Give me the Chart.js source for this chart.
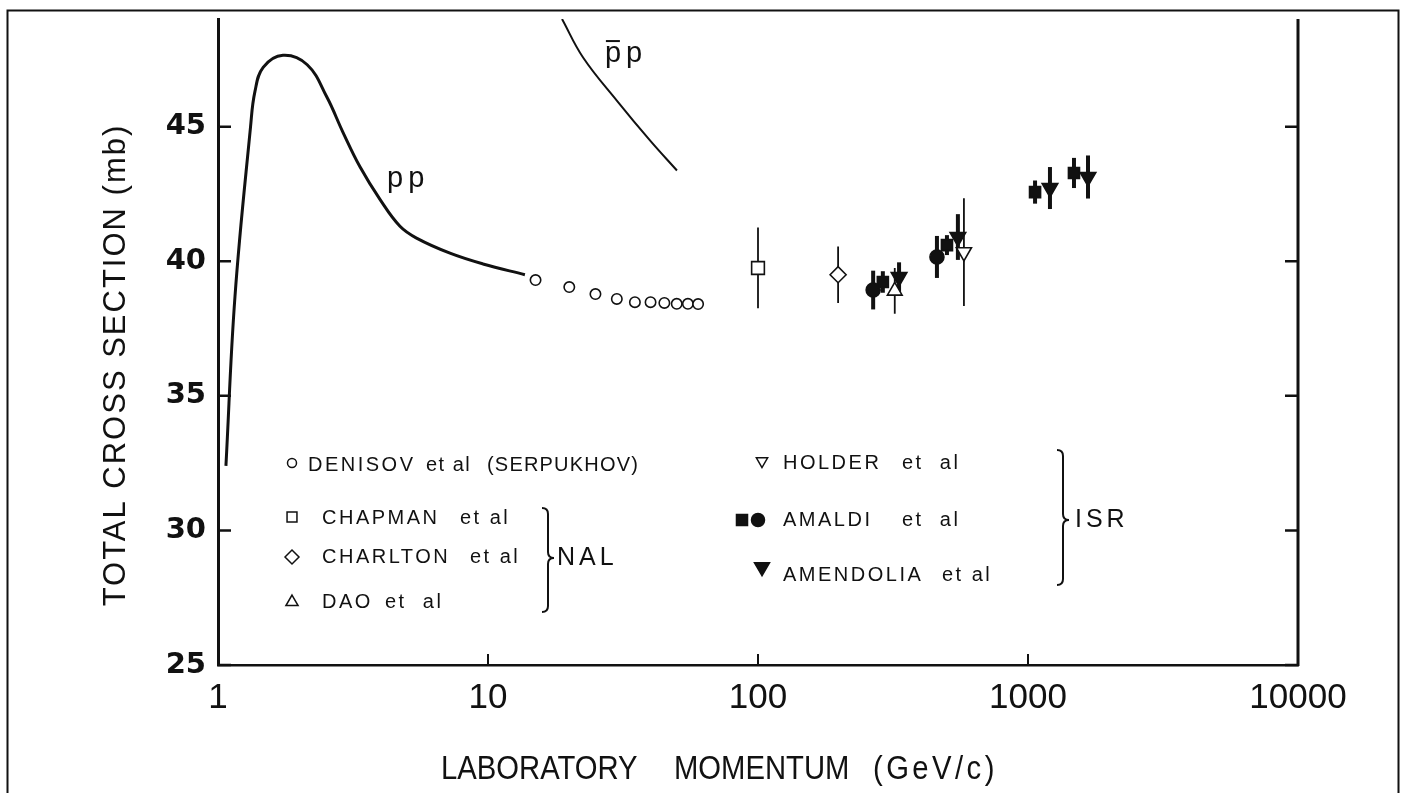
<!DOCTYPE html>
<html>
<head>
<meta charset="utf-8">
<title>Total cross section vs laboratory momentum</title>
<script src="https://cdn.jsdelivr.net/npm/chart.js@4.4.1/dist/chart.umd.min.js"></script>
<style>
  html, body { margin: 0; padding: 0; background: #fff; }
  canvas { display: block; }
</style>
</head>
<body>
<canvas id="crossSection" width="1405" height="793"></canvas>
<script>
// pp and pbar-p curves (GeV/c, mb)
const ppMomentum = [1.07, 1.156, 1.32, 1.37, 1.47, 1.74, 2.14, 2.53, 2.90, 3.36, 3.98, 4.72, 5.46, 7.23, 9.58, 13.7];
const ppSigma = [32.4, 38.7, 45.0, 46.3, 47.2, 47.65, 47.3, 46.1, 44.8, 43.5, 42.3, 41.3, 40.85, 40.3, 39.9, 39.5];
const pbarpMomentum = [18.8, 22.5, 30.0, 39.8, 50.1];
const pbarpSigma = [49.0, 47.57, 45.97, 44.49, 43.37];

// Serpukhov points
const denisovMomentum = [15, 20, 25, 30, 35, 40, 45, 50, 55, 60];
const denisovSigma = [39.30, 39.04, 38.78, 38.60, 38.48, 38.48, 38.45, 38.42, 38.42, 38.41];

// NAL points
const chapmanMomentum = [100];
const chapmanSigma = [39.75];
const chapmanError = [1.5];
const charltonMomentum = [198];
const charltonSigma = [39.5];
const charltonError = [1.05];
const daoMomentum = [321];
const daoSigma = [38.9];
const daoError = [0.85];

// ISR points
const holderMomentum = [579];
const holderSigma = [40.34];
const holderError = [2.0];
const amaldiSqMomentum = [290, 501, 1062, 1480];
const amaldiSqSigma = [39.23, 40.6, 42.57, 43.28];
const amaldiSqError = [0.4, 0.37, 0.43, 0.56];
const amaldiCircMomentum = [267, 460];
const amaldiCircSigma = [38.93, 40.16];
const amaldiCircError = [0.72, 0.78];
const amendoliaMomentum = [333, 550, 1206, 1668];
const amendoliaSigma = [39.41, 40.9, 42.72, 43.13];
const amendoliaError = [0.55, 0.85, 0.78, 0.8];

const xTickValues = [1, 10, 100, 1000, 10000];
const yTickValues = [25, 30, 35, 40, 45];

const xTitleWords = ['LABORATORY', 'MOMENTUM', '(GeV/c)'];
const yTitle = 'TOTAL CROSS SECTION (mb)';

const INK = '#111';

function pairs(xs, ys) {
    return xs.map((v, i) => ({ x: v, y: ys[i] }));
}

function markerSet(label, xs, ys, style, extra) {
    return Object.assign({
        label: label,
        data: pairs(xs, ys),
        showLine: false,
        pointStyle: style,
        borderColor: INK,
        backgroundColor: '#fff',
        pointBorderWidth: 1.6
    }, extra);
}

function curveSet(label, xs, ys, width) {
    return {
        label: label,
        data: pairs(xs, ys),
        showLine: true,
        pointRadius: 0,
        borderColor: INK,
        borderWidth: width,
        tension: 0.4,
        fill: false
    };
}

// error bars drawn under the markers
const errorBars = {
    id: 'errorBars',
    beforeDatasetsDraw(chart) {
        const { ctx, scales: { x, y } } = chart;
        ctx.save();
        ctx.strokeStyle = INK;
        chart.data.datasets.forEach(ds => {
            if (!ds.errors) return;
            ctx.lineWidth = ds.errorWidth;
            ds.data.forEach((pt, i) => {
                const px = x.getPixelForValue(pt.x);
                ctx.beginPath();
                ctx.moveTo(px, y.getPixelForValue(pt.y - ds.errors[i]));
                ctx.lineTo(px, y.getPixelForValue(pt.y + ds.errors[i]));
                ctx.stroke();
            });
        });
        ctx.restore();
    }
};

function drawBrace(ctx, x, top, tip, bottom, w) {
    ctx.beginPath();
    ctx.moveTo(x - w, top);
    ctx.quadraticCurveTo(x, top, x, top + w);
    ctx.lineTo(x, tip - w);
    ctx.quadraticCurveTo(x, tip, x + w, tip);
    ctx.quadraticCurveTo(x, tip, x, tip + w);
    ctx.lineTo(x, bottom - w);
    ctx.quadraticCurveTo(x, bottom, x - w, bottom);
    ctx.stroke();
}

function marker(ctx, style, x, y, radius, filled, rotation) {
    ctx.save();
    ctx.fillStyle = filled ? INK : '#fff';
    ctx.strokeStyle = INK;
    ctx.lineWidth = 1.5;
    Chart.helpers.drawPoint(ctx, {
        pointStyle: style, radius: radius, rotation: rotation || 0, borderWidth: 1.5
    }, x, y);
    ctx.restore();
}

// frame, right axis, inward ticks, titles, curve labels and the legend block
const decorations = {
    id: 'decorations',
    afterDraw(chart) {
        const { ctx, chartArea: a, scales: { x, y } } = chart;
        ctx.save();
        ctx.strokeStyle = INK;
        ctx.fillStyle = INK;

        // outer frame (open at the bottom edge of the page)
        ctx.lineWidth = 2;
        ctx.beginPath();
        ctx.moveTo(7.5, 793);
        ctx.lineTo(7.5, 10.5);
        ctx.lineTo(1398.5, 10.5);
        ctx.lineTo(1398.5, 793);
        ctx.stroke();

        // right axis
        ctx.lineWidth = 3;
        ctx.beginPath();
        ctx.moveTo(a.right, a.top);
        ctx.lineTo(a.right, a.bottom + 1);
        ctx.stroke();

        // inward ticks
        ctx.lineWidth = 2.5;
        yTickValues.forEach(v => {
            const py = y.getPixelForValue(v);
            ctx.beginPath();
            ctx.moveTo(a.left, py); ctx.lineTo(a.left + 13, py);
            ctx.moveTo(a.right, py); ctx.lineTo(a.right - 13, py);
            ctx.stroke();
        });
        ctx.lineWidth = 2;
        xTickValues.slice(1, -1).forEach(v => {
            const px = x.getPixelForValue(v);
            ctx.beginPath();
            ctx.moveTo(px, a.bottom); ctx.lineTo(px, a.bottom - 11);
            ctx.stroke();
        });

        // axis titles (x title is a condensed face, squeezed horizontally)
        ctx.textBaseline = 'middle';
        ctx.textAlign = 'left';
        ctx.save();
        const squeeze = 0.86;
        ctx.scale(squeeze, 1);
        ctx.font = '34px "Liberation Sans"';
        [441, 674, 873].forEach((left, i) => {
            ctx.letterSpacing = i === 2 ? '4px' : '0px';
            ctx.fillText(xTitleWords[i], left / squeeze, 770);
        });
        ctx.restore();

        ctx.save();
        ctx.textAlign = 'center';
        ctx.translate(116, 365);
        ctx.rotate(-Math.PI / 2);
        ctx.font = '31px "Liberation Sans"';
        ctx.letterSpacing = '2px';
        ctx.fillText(yTitle, 0, 0);
        ctx.restore();

        // curve labels
        ctx.textBaseline = 'alphabetic';
        ctx.font = '29px "Liberation Sans"';
        ctx.letterSpacing = '5px';
        ctx.fillText('pp', x.getPixelForValue(4.23), y.getPixelForValue(42.76));
        const bx = x.getPixelForValue(27.1);
        const by = y.getPixelForValue(47.4);
        ctx.fillText('pp', bx, by);
        ctx.lineWidth = 2;
        ctx.beginPath();
        ctx.moveTo(bx + 1, by - 21);
        ctx.lineTo(bx + 15, by - 21);
        ctx.stroke();

        // legend
        ctx.textBaseline = 'middle';
        ctx.font = '20px "Liberation Sans"';
        ctx.letterSpacing = '2.5px';
        marker(ctx, 'circle', 292, 463, 4.5, false);
        ctx.fillText('DENISOV', 308, 465);
        ctx.letterSpacing = '1.5px';
        ctx.fillText('et al', 426, 465);
        ctx.letterSpacing = '1.2px';
        ctx.fillText('(SERPUKHOV)', 487, 465);
        ctx.letterSpacing = '2.5px';

        marker(ctx, 'rect', 292, 517, 7, false);
        ctx.fillText('CHAPMAN', 322, 518);
        ctx.fillText('et al', 460, 518);

        marker(ctx, 'rectRot', 292, 557, 7, false);
        ctx.fillText('CHARLTON', 322, 557);
        ctx.fillText('et al', 470, 557);

        marker(ctx, 'triangle', 292, 602, 7, false);
        ctx.fillText('DAO', 322, 602);
        ctx.fillText('et  al', 385, 602);

        marker(ctx, 'triangle', 762, 461, 6.5, false, 180);
        ctx.fillText('HOLDER', 783, 463);
        ctx.fillText('et  al', 902, 463);

        marker(ctx, 'rect', 742, 520, 7.8, true);
        marker(ctx, 'circle', 758, 520, 6.5, true);
        ctx.fillText('AMALDI', 783, 520);
        ctx.fillText('et  al', 902, 520);

        marker(ctx, 'triangle', 762, 567, 8.7, true, 180);
        ctx.fillText('AMENDOLIA', 783, 575);
        ctx.fillText('et al', 942, 575);

        ctx.lineWidth = 2;
        drawBrace(ctx, 548, 508, 558, 612, 6);
        drawBrace(ctx, 1063, 450, 520, 585, 6);
        ctx.font = '25px "Liberation Sans"';
        ctx.letterSpacing = '4px';
        ctx.fillText('NAL', 557, 558);
        ctx.fillText('ISR', 1075, 520);

        ctx.restore();
    }
};

const config = {
    type: 'scatter',
    data: {
        datasets: [
            markerSet('Amendolia', amendoliaMomentum, amendoliaSigma, 'triangle',
                { pointRadius: 9, pointRotation: 180, backgroundColor: INK, errors: amendoliaError, errorWidth: 4 }),
            markerSet('Amaldi (squares)', amaldiSqMomentum, amaldiSqSigma, 'rect',
                { pointRadius: 7.8, backgroundColor: INK, errors: amaldiSqError, errorWidth: 4 }),
            markerSet('Amaldi (circles)', amaldiCircMomentum, amaldiCircSigma, 'circle',
                { pointRadius: 7, backgroundColor: INK, errors: amaldiCircError, errorWidth: 4 }),
            markerSet('Holder', holderMomentum, holderSigma, 'triangle',
                { pointRadius: 8.7, pointRotation: 180, errors: holderError, errorWidth: 1.8 }),
            markerSet('Dao', daoMomentum, daoSigma, 'triangle',
                { pointRadius: 8.5, errors: daoError, errorWidth: 1.8 }),
            markerSet('Charlton', charltonMomentum, charltonSigma, 'rectRot',
                { pointRadius: 8, errors: charltonError, errorWidth: 1.8 }),
            markerSet('Chapman', chapmanMomentum, chapmanSigma, 'rect',
                { pointRadius: 9, errors: chapmanError, errorWidth: 1.8 }),
            markerSet('Denisov', denisovMomentum, denisovSigma, 'circle',
                { pointRadius: 5.2, pointBorderWidth: 1.6 }),
            curveSet('pp', ppMomentum, ppSigma, 3),
            curveSet('pbar p', pbarpMomentum, pbarpSigma, 2)
        ]
    },
    options: {
        responsive: false,
        devicePixelRatio: 1,
        animation: false,
        events: [],
        layout: { padding: { top: 19, right: 107, left: 0, bottom: 0 } },
        plugins: {
            legend: { display: false },
            tooltip: { enabled: false }
        },
        scales: {
            x: {
                type: 'logarithmic',
                min: 1,
                max: 10000,
                afterBuildTicks: scale => {
                    scale.ticks = xTickValues.map(v => ({ value: v }));
                },
                afterFit: scale => { scale.height = 128; },
                grid: { display: false, drawTicks: false },
                border: { display: true, color: INK, width: 2.5 },
                ticks: {
                    color: INK,
                    padding: 12,
                    maxRotation: 0,
                    autoSkip: false,
                    font: { family: '"Liberation Sans"', size: 35 },
                    callback: v => String(v)
                }
            },
            y: {
                min: 25,
                max: 49,
                afterBuildTicks: scale => {
                    scale.ticks = yTickValues.map(v => ({ value: v }));
                },
                afterFit: scale => {
                    scale.width = 218;
                    scale.paddingTop = 0;
                    scale.paddingBottom = 0;
                },
                grid: { display: false, drawTicks: false },
                border: { display: true, color: INK, width: 3 },
                ticks: {
                    color: INK,
                    padding: 12,
                    font: { family: '"DejaVu Sans"', size: 29, weight: 'bold' }
                }
            }
        }
    },
    plugins: [errorBars, decorations]
};

new Chart(document.getElementById('crossSection'), config);
</script>
</body>
</html>
